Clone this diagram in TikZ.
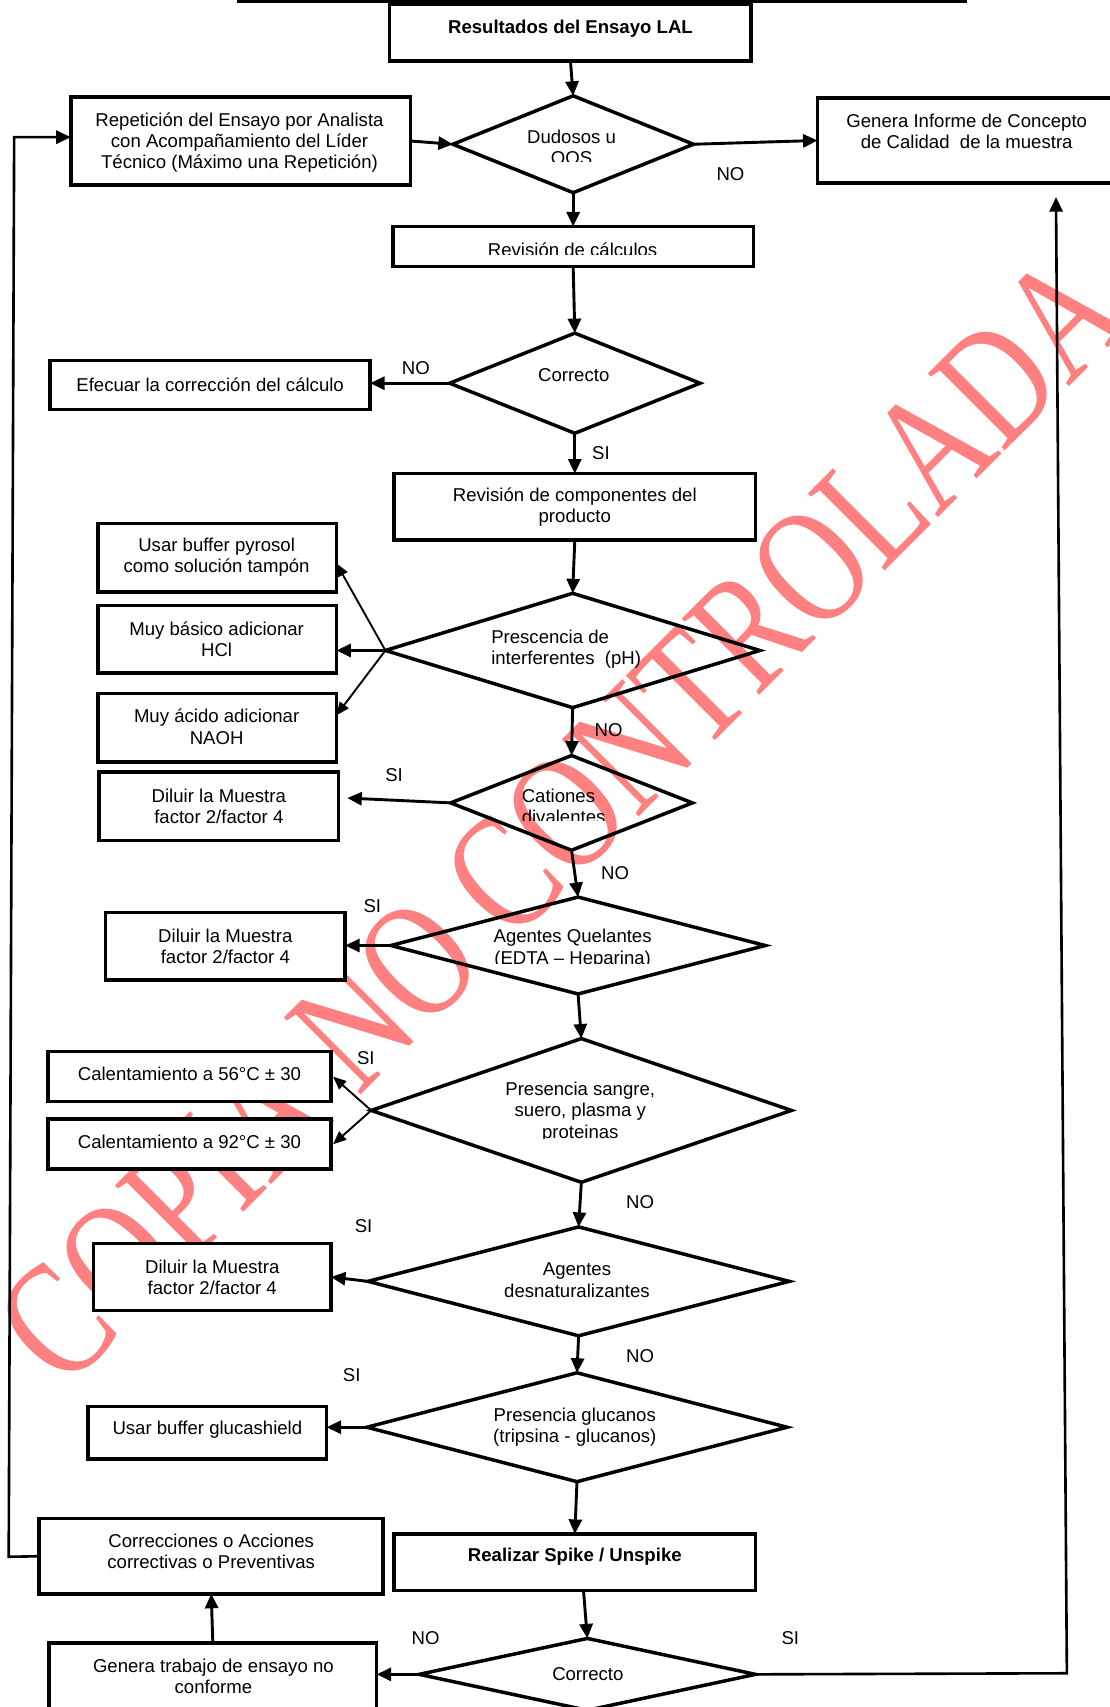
\documentclass[tikz,border=0pt]{standalone}
\usepackage{fontspec}
\setmainfont{Liberation Sans}
\newfontfamily\wmfont{Liberation Serif}
\usetikzlibrary{arrows.meta,shapes.geometric,fit}
\definecolor{wmred}{RGB}{255,128,128}
\begin{document}
\begin{tikzpicture}[x=0.75pt,y=-0.75pt,
  box/.style={draw, line width=2.4pt, fill=white, inner sep=0pt, outer sep=0pt},
  dia/.style={draw, diamond, line width=2.4pt, inner sep=0pt, outer sep=0pt},
  txt/.style={font=\fontsize{12.8}{14.6}\selectfont, align=center, inner sep=0pt},
  ltxt/.style={font=\fontsize{12.8}{14.6}\selectfont, align=left, inner sep=0pt},
  btxt/.style={font=\fontsize{12.8}{14.6}\selectfont\bfseries, align=center, inner sep=0pt},
  lbl/.style={font=\fontsize{12.8}{14.6}\selectfont, inner sep=0pt},
  con/.style={line width=2pt, -{Triangle[length=10pt,width=9pt]}},
  thinarrow/.style={line width=1.3pt, -{Triangle[length=9pt,width=7.5pt]}},
  loopline/.style={line width=1.8pt},
  wmtxt/.style={font=\wmfont\fontsize{88}{88}\selectfont, text=wmred, rotate=45, inner sep=0pt},
]
\useasboundingbox (0,0) rectangle (1019,1568);

% watermark
\node[wmtxt] (wm) at (515,752) {\scalebox{1}[1.3]{COPIA NO CONTROLADA}};

% top rule
\draw[line width=1.8pt] (218,1.5) -- (888,1.5);

% boxes
\node[box, fit={(358,4) (690,56)}] (bres) {};
\node[box, fit={(65,89) (377,170)}] (brep) {};
\node[box, fit={(751,90) (1030,168)}] (binf) {};
\node[box, fit={(361,208) (692,245)}] (brev) {};
\node[box, fit={(46,331) (340,376)}] (bef) {};
\node[box, fit={(362,435) (694,496)}] (bcomp) {};
\node[box, fit={(90,481) (309,544)}] (bbuf) {};
\node[box, fit={(90,556) (309,618)}] (bbas) {};
\node[box, fit={(90,637) (309,700)}] (baci) {};
\node[box, fit={(91,709) (311,772)}] (bdila) {};
\node[box, fit={(97,838) (317,900)}] (bdilb) {};
\node[box, fit={(44,966) (304,1012)}] (bcala) {};
\node[box, fit={(44,1028) (304,1074)}] (bcalb) {};
\node[box, fit={(86,1142) (304,1204)}] (bdilc) {};
\node[box, fit={(81,1292) (300,1340)}] (bglu) {};
\node[box, fit={(36,1395) (352,1464)}] (bcor) {};
\node[box, fit={(362,1409) (694,1461)}] (bspk) {};
\node[box, fit={(45,1509) (346,1600)}] (bgen) {};

% diamonds
\node[dia, minimum width=165.75pt, minimum height=66.75pt] (da) at (526.5,132.5) {};
\node[dia, minimum width=172.5pt, minimum height=69pt] (db) at (528,352) {};
\node[dia, minimum width=258pt, minimum height=78.75pt] (dc) at (526,597.5) {};
\node[dia, minimum width=166.5pt, minimum height=65.25pt] (dd) at (525,737.5) {};
\node[dia, minimum width=258pt, minimum height=66.75pt] (de) at (531,868.5) {};
\node[dia, minimum width=289.5pt, minimum height=99pt] (df) at (534,1020) {};
\node[dia, minimum width=290.25pt, minimum height=75pt] (dg) at (531.5,1177) {};
\node[dia, minimum width=289.5pt, minimum height=75pt] (dh) at (530,1311) {};
\node[dia, minimum width=231.75pt, minimum height=49.5pt] (di) at (539.5,1538) {};

% texts
\node[btxt] (tres) at (524,26) {Resultados del Ensayo LAL};
\node[txt] (trep) at (220,131) {Repetición del Ensayo por Analista\\con Acompañamiento del Líder\\Técnico (Máximo una Repetición)};
\node[txt] (tinf) at (888,121) {Genera Informe de Concepto\\de Calidad\ \ de la muestra};
\begin{scope}
  \clip (420,100) rectangle (630,148.5);
  \node[txt] (tda) at (525,135.5) {Dudosos u\\OOS};
\end{scope}
\begin{scope}
  \clip (370,212) rectangle (685,233.5);
  \node[txt] (trev) at (526,229) {Revisión de cálculos};
\end{scope}
\node[txt] (tdb) at (527,345) {Correcto};
\node[txt] (tef) at (193,353) {Efecuar la corrección del cálculo};
\node[txt] (tcomp) at (528,466) {Revisión de componentes del\\producto};
\node[txt] (tbuf) at (199,512) {Usar buffer pyrosol\\como solución tampón};
\node[txt] (tbas) at (199,587) {Muy básico adicionar\\HCl};
\node[txt] (taci) at (199,667.5) {Muy ácido adicionar\\NAOH};
\node[ltxt, anchor=west] (tdc) at (451,596) {Prescencia de\\interferentes\ \ (pH)};
\begin{scope}
  \clip (470,715) rectangle (600,753.5);
  \node[ltxt, anchor=west] (tdd) at (479,741) {Cationes\\divalentes};
\end{scope}
\node[txt] (tdila) at (201,741) {Diluir la Muestra\\factor 2/factor 4};
\begin{scope}
  \clip (440,845) rectangle (620,885);
  \node[txt] (tde) at (526,871.5) {Agentes Quelantes\\(EDTA – Heparina)};
\end{scope}
\node[txt] (tdilb) at (207,869) {Diluir la Muestra\\factor 2/factor 4};
\begin{scope}
  \clip (440,985) rectangle (630,1046);
  \node[txt] (tdf) at (533,1021.5) {Presencia sangre,\\suero, plasma y\\proteinas};
\end{scope}
\node[txt] (tcala) at (174,986) {Calentamiento a 56°C ± 30};
\node[txt] (tcalb) at (174,1049) {Calentamiento a 92°C ± 30};
\node[txt] (tdg) at (530,1176) {Agentes\\desnaturalizantes};
\node[txt] (tdilc) at (195,1173) {Diluir la Muestra\\factor 2/factor 4};
\node[txt] (tdh) at (528,1311) {Presencia glucanos\\(tripsina - glucanos)};
\node[txt] (tglu) at (190.5,1313) {Usar buffer glucashield};
\node[txt] (tcor) at (194,1425) {Correcciones o Acciones\\correctivas o Preventivas};
\node[btxt] (tspk) at (528,1430) {Realizar Spike / Unspike};
\node[txt] (tdi) at (540,1538) {Correcto};
\node[txt] (tgen) at (196,1540) {Genera trabajo de ensayo no\\conforme};

% labels
\node[lbl] (la) at (671,160) {NO};
\node[lbl] (lb) at (382,338) {NO};
\node[lbl] (lc) at (552,416) {SI};
\node[lbl] (ld) at (559,671) {NO};
\node[lbl] (le) at (362,712) {SI};
\node[lbl] (lf) at (565,802) {NO};
\node[lbl] (lg) at (342,832) {SI};
\node[lbl] (lh) at (336,972) {SI};
\node[lbl] (li) at (588,1104) {NO};
\node[lbl] (lj) at (334,1126) {SI};
\node[lbl] (lk) at (588,1246) {NO};
\node[lbl] (ll) at (323,1263) {SI};
\node[lbl] (lm) at (391,1505) {NO};
\node[lbl] (ln) at (726,1505) {SI};

% connectors
\draw[con] (bres.south) -- (da.north);
\draw[con] (brep.east) -- (da.west);
\draw[con] (da.east) -- (binf.west);
\draw[con] (da.south) -- (brev.north);
\draw[con] (brev.south) -- (db.north);
\draw[con] (db.west) -- (bef.east |- db.west);
\draw[con] (db.south) -- (bcomp.north);
\draw[con] (bcomp.south) -- (dc.north);
\draw[thinarrow] (dc.west) -- ([yshift=-3.75pt]bbuf.east);
\draw[con] (dc.west) -- (bbas.east |- dc.west);
\draw[thinarrow] (dc.west) -- ([yshift=8.6pt]baci.east);
\draw[con] (dc.south) -- (dd.north);
\draw[con] (dd.west) -- ([xshift=6pt,yshift=5.6pt]bdila.east);
\draw[con] (dd.south) -- (de.north);
\draw[con] (de.west) -- (bdilb.east |- de.west);
\draw[con] (de.south) -- (df.north);
\draw[thinarrow] (df.west) -- ([xshift=1.5pt]bcala.east);
\draw[thinarrow] (df.west) -- ([xshift=1.5pt]bcalb.east);
\draw[con] (df.south) -- (dg.north);
\draw[con] (dg.west) -- (bdilc.east);
\draw[con] (dg.south) -- (dh.north);
\draw[con] (dh.west) -- (bglu.east |- dh.west);
\draw[con] (dh.south) -- (bspk.north);
\draw[con] ([xshift=6pt]bspk.south) -- (di.north);
\draw[con] (di.west) -- (bgen.east |- di.west);
\draw[con] (bgen.north) -- (bcor.south);

\coordinate (rca) at (980,1537);
\coordinate (rcb) at (970,181);
\draw[loopline, -{Triangle[length=10pt,width=9pt]}] (di.east) -- (rca) -- (rcb);

\coordinate (lca) at (8,1430);
\coordinate (lcb) at (13,126);
\draw[loopline, -{Triangle[length=10pt,width=9pt]}] (bcor.west) -- (lca) -- (lcb) -- (brep.west |- lcb);
\end{tikzpicture}
\end{document}
